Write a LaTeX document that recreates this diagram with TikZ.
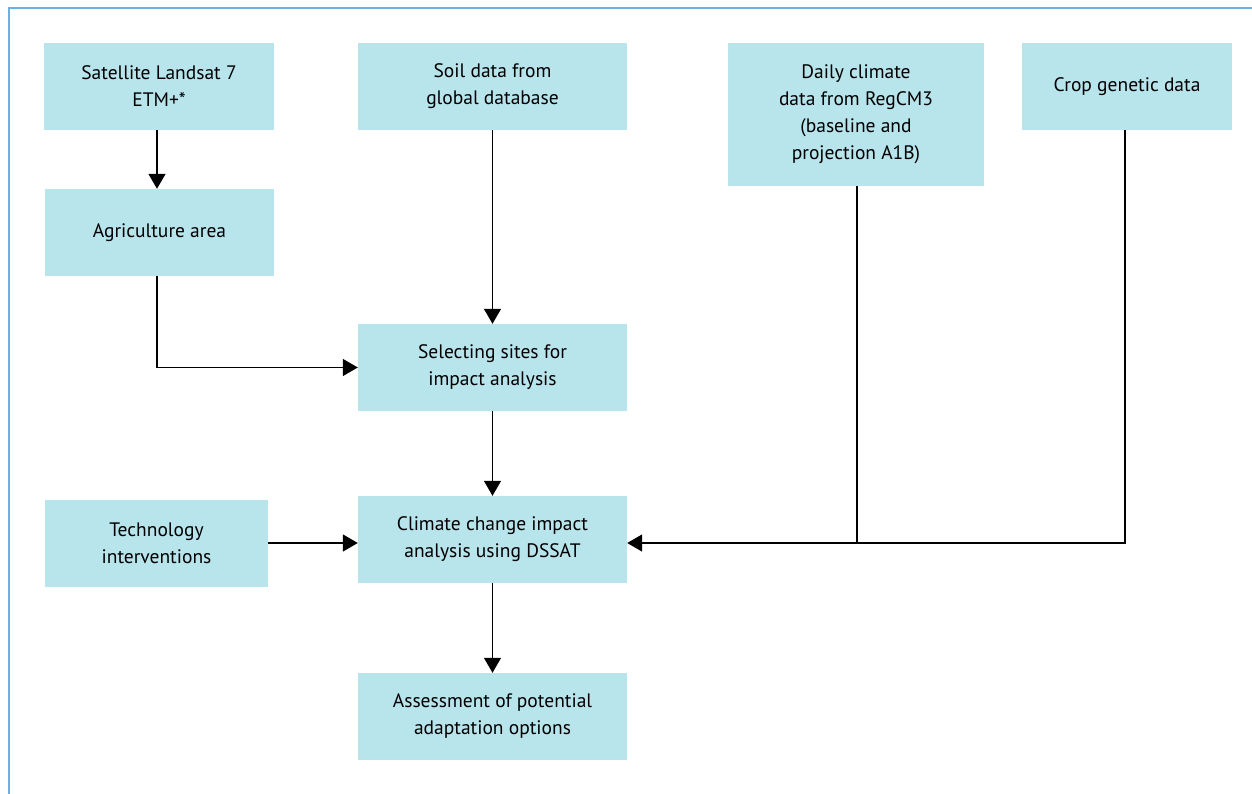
\documentclass[tikz,border=0pt]{standalone}
\usepackage{fontspec}
\setmainfont{PT Sans}
\usetikzlibrary{arrows.meta}
\definecolor{boxfill}{RGB}{184,228,236}
\definecolor{frameblue}{RGB}{110,175,225}
\tikzset{
  box/.style={fill=boxfill, draw=none, inner sep=0pt, align=center,
    font=\fontsize{19.5}{27}\selectfont, text=black},
  conn/.style={line width=1.4pt, draw=black},
  arr/.style={conn, -{Triangle[length=15pt,width=17pt]}},
}
\begin{document}
\begin{tikzpicture}[x=1pt,y=-1pt]
\useasboundingbox (0,0) rectangle (1252,794);
\draw[frameblue, line width=2pt] (9,794) -- (9,8) -- (1252,8);
% boxes
\node[box, minimum width=230, minimum height=87] (sat) at (159,86.5) {Satellite Landsat 7\\ETM+*};
\node[box, minimum width=229, minimum height=87] (agr) at (159.5,232.5) {Agriculture area};
\node[box, minimum width=269, minimum height=87] (soil) at (492.5,86.5) {Soil data from\\global database};
\node[box, minimum width=256, minimum height=143] (clim) at (856,114.5) {Daily climate\\data from RegCM3\\(baseline and\\projection A1B)};
\node[box, minimum width=210, minimum height=87] (crop) at (1127,86.5) {Crop genetic data};
\node[box, minimum width=269, minimum height=87] (sel) at (492.5,367.5) {Selecting sites for\\impact analysis};
\node[box, minimum width=223, minimum height=87] (tech) at (156.5,543.5) {Technology\\interventions};
\node[box, minimum width=269, minimum height=87] (cc) at (492.5,539.5) {Climate change impact\\analysis using DSSAT};
\node[box, minimum width=269, minimum height=87] (ass) at (492.5,716.5) {Assessment of potential\\adaptation options};
% connectors
\coordinate (j) at (857,543);
\draw[arr] (sat.south -| 157,0) -- (agr.north -| 157,0);
\draw[arr] (soil.south) -- (sel.north);
\draw[arr] (agr.south -| 157,0) |- (sel.west);
\draw[arr] (sel.south) -- (cc.north);
\draw[arr] (tech.east |- 0,543) -- (cc.west |- 0,543);
\draw[arr] (crop.south -| 1125,0) |- (cc.east |- 0,543);
\draw[conn] (clim.south -| j) -- (j);
\draw[arr] (cc.south) -- (ass.north);
\end{tikzpicture}
\end{document}
